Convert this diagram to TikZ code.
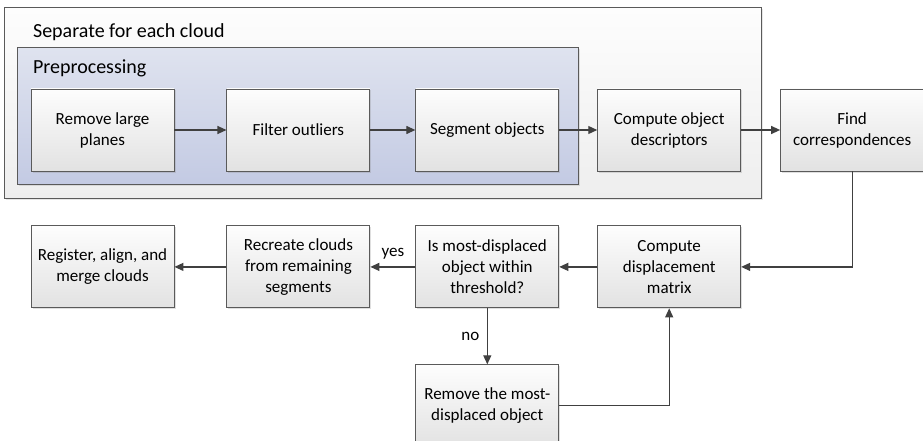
\documentclass[tikz,border=0pt]{standalone}
\usepackage{fontspec}
\setmainfont{Carlito}
\usetikzlibrary{positioning,arrows.meta,shadows,backgrounds}
\definecolor{linegray}{HTML}{404040}
\definecolor{edgegray}{HTML}{5A5A5A}
\definecolor{boxtop}{HTML}{FDFDFD}
\definecolor{boxbottom}{HTML}{E2E2E2}
\definecolor{pretop}{HTML}{DFE3EF}
\definecolor{prebottom}{HTML}{C3CAE3}
\definecolor{outtop}{HTML}{FDFDFD}
\definecolor{outbottom}{HTML}{EEEEEE}
\begin{document}
\begin{tikzpicture}[font=\fontsize{17}{21}\selectfont,
                    stepbox/.style={draw=edgegray, line width=0.9pt, top color=boxtop, bottom color=boxbottom,
                                    minimum width=143pt, minimum height=82pt, align=center, inner sep=2pt,
                                    drop shadow={shadow xshift=1.5pt, shadow yshift=-1.5pt, opacity=0.25}},
                    group/.style={draw=edgegray, line width=0.9pt,
                                  drop shadow={shadow xshift=1.5pt, shadow yshift=-1.5pt, opacity=0.2}},
                    header/.style={font=\fontsize{20}{24}\selectfont, anchor=west},
                    flow/.style={draw=linegray, line width=1.2pt, -{Triangle[length=9pt,width=8pt]}}]
\useasboundingbox (0,0) rectangle (923pt,-441pt);
% per cloud
\node[stepbox] (planes) at (102.5pt,-130pt) {Remove large\\planes};
\node[stepbox, right=52pt of planes] (outliers) {Filter outliers};
\node[stepbox, right=45pt of outliers] (segment) {Segment objects};
\node[stepbox, right=38pt of segment] (descr) {Compute object\\descriptors};
\node[stepbox, right=39pt of descr] (corresp) {Find\\correspondences};
% matching loop
\node[stepbox, below=54pt of descr] (dispmat) {Compute\\displacement\\matrix};
\node[stepbox, below=54pt of segment] (thresh) {Is most-displaced\\object within\\threshold?};
\node[stepbox, below=54pt of outliers] (recreate) {Recreate clouds\\from remaining\\segments};
\node[stepbox, below=54pt of planes] (register) {Register, align, and\\merge clouds};
\node[stepbox, below=56pt of thresh] (removeobj) {Remove the most-\\displaced object};
\node[header] (eachcap) at ([xshift=-1pt,yshift=56pt]planes.north west) {Separate for each cloud};
\node[header] (precap) at ([xshift=-1pt,yshift=20pt]planes.north west) {Preprocessing};
\begin{scope}[on background layer]
    \draw[group, top color=outtop, bottom color=outbottom]
        ([xshift=-26pt,yshift=81pt]planes.north west) rectangle ([xshift=20pt,yshift=-27pt]descr.south east);
    \draw[group, top color=pretop, bottom color=prebottom]
        ([xshift=-13pt,yshift=41pt]planes.north west) rectangle ([xshift=19pt,yshift=-13pt]segment.south east);
\end{scope}
\draw[flow] (planes) -- (outliers);
\draw[flow] (outliers) -- (segment);
\draw[flow] (segment) -- (descr);
\draw[flow] (descr) -- (corresp);
\draw[flow] (corresp) |- (dispmat);
\draw[flow] (dispmat) -- (thresh);
\draw[flow] (thresh) -- node[above=4pt] {yes} (recreate);
\draw[flow] (recreate) -- (register);
\draw[flow] (thresh) -- node[left=4pt] {no} (removeobj);
\draw[flow] (removeobj) -| (dispmat);
\end{tikzpicture}
\end{document}
